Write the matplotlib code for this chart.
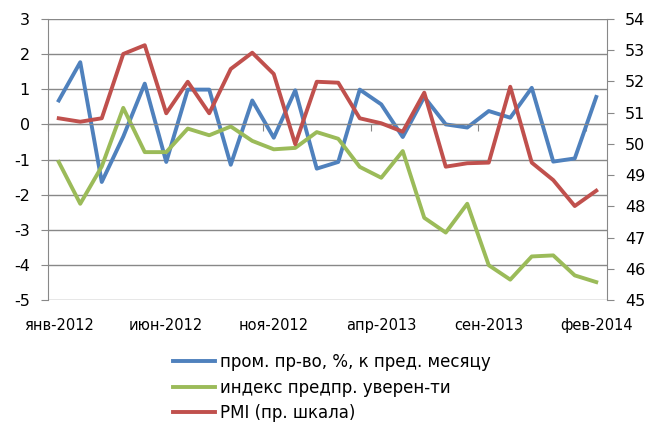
import matplotlib
matplotlib.use("Agg")
import matplotlib.pyplot as plt
import numpy as np

plt.rcParams['font.family'] = ['DejaVu Sans']
plt.rcParams['axes.unicode_minus'] = False

months = ["янв-2012", "фев-2012", "мар-2012", "апр-2012", "май-2012", "июн-2012",
          "июл-2012", "авг-2012", "сен-2012", "окт-2012", "ноя-2012", "дек-2012",
          "янв-2013", "фев-2013", "мар-2013", "апр-2013", "май-2013", "июн-2013",
          "июл-2013", "авг-2013", "сен-2013", "окт-2013", "ноя-2013", "дек-2013",
          "янв-2014", "фев-2014"]
tick_labels = ["янв-2012", "июн-2012", "ноя-2012", "апр-2013", "сен-2013", "фев-2014"]

prom = [0.68, 1.77, -1.64, -0.35, 1.16, -1.07, 0.99, 0.99, -1.15, 0.68, -0.38, 0.97, -1.26,
        -1.07, 0.99, 0.57, -0.36, 0.78, 0.0, -0.09, 0.38, 0.19, 1.04, -1.06, -0.97, 0.78]
conf = [-1.07, -2.26, -1.2, 0.47, -0.79, -0.79, -0.12, -0.31, -0.06, -0.47, -0.71, -0.67, -0.22,
        -0.41, -1.21, -1.52, -0.76, -2.66, -3.08, -2.26, -4.01, -4.42, -3.76, -3.73, -4.30, -4.49]
pmi = [50.82, 50.71, 50.82, 52.88, 53.16, 50.98, 51.99, 50.98, 52.40, 52.92, 52.24, 49.99, 51.99,
       51.96, 50.82, 50.66, 50.39, 51.64, 49.27, 49.38, 49.40, 51.83, 49.40, 48.84, 48.01, 48.50]

labels = ["пром. пр-во, %, к пред. месяцу", "индекс предпр. уверен-ти", "PMI (пр. шкала)"]
c_blue, c_green, c_red = "#4F81BD", "#9BBB59", "#C0504D"
grid_c = "#888888"

fig = plt.figure(figsize=(6.47, 4.23), dpi=100)
ax = fig.add_axes([48/647, 1-300/423, (607-48)/647, (300-19)/423])
x = np.arange(len(months))

lw = 2.8
l1, = ax.plot(x, prom, color=c_blue, lw=lw, label=labels[0])
l2, = ax.plot(x, conf, color=c_green, lw=lw, label=labels[1])
ax.set_xlim(-0.5, len(months) - 0.5)
ax.set_ylim(-5, 3)
ax.set_yticks(range(-5, 4))
ax.yaxis.grid(True, color=grid_c, lw=1)
ax.set_axisbelow(True)
ax.tick_params(axis='y', length=5, color=grid_c, labelsize=11.5, pad=8)

# x axis crossing at 0 with tick marks between categories
for s in ['top', 'right']:
    ax.spines[s].set_visible(False)
ax.spines['bottom'].set_position(('data', 0))
ax.spines['bottom'].set_color(grid_c)
ax.spines['left'].set_color(grid_c)
ax.set_xticks(np.arange(-0.5, len(months), 5))
ax.tick_params(axis='x', length=5, color=grid_c, labelbottom=False, direction='out')

sec = ax.secondary_xaxis(0)
sec.set_xticks(x[::5])
sec.set_xticklabels(tick_labels)
sec.tick_params(length=0, pad=13, labelsize=10.5)
sec.spines['bottom'].set_visible(False)

ax2 = ax.twinx()
l3, = ax2.plot(x, pmi, color=c_red, lw=lw, label=labels[2])
ax2.set_ylim(45, 54)
ax2.set_yticks(range(45, 55))
ax2.tick_params(axis='y', length=5, color=grid_c, labelsize=11.5, pad=8)
for s in ['top', 'left', 'bottom']:
    ax2.spines[s].set_visible(False)
ax2.spines['right'].set_color(grid_c)

fig.legend(handles=[l1, l2, l3], loc='upper left', bbox_to_anchor=(173/647, 1-353/423),
           frameon=False, fontsize=12, handlelength=2.5, handletextpad=0.3,
           labelspacing=0.45, borderaxespad=0, borderpad=0)

fig.savefig("out.png", dpi=100)
